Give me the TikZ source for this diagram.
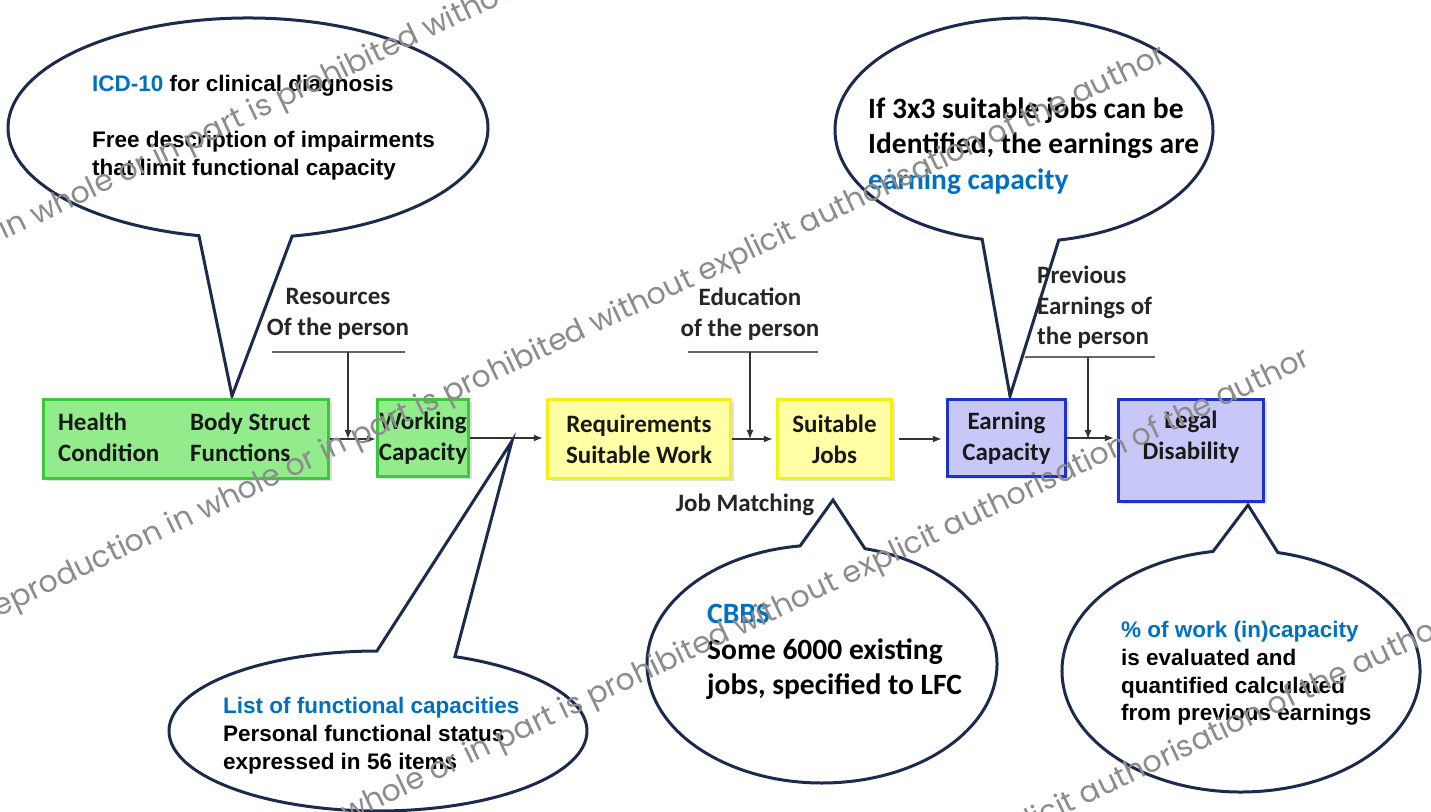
\documentclass[tikz,border=0pt]{standalone}
\usepackage{fontspec}
\setmainfont{Carlito}
\newfontfamily\arialf{Liberation Sans}
\newfontfamily\wmfont{Poppins}
\usetikzlibrary{shadows,arrows.meta}
\definecolor{navy}{RGB}{28,42,78}
\definecolor{hlblue}{RGB}{0,112,192}
\definecolor{gfill}{RGB}{146,236,140}
\definecolor{gline}{RGB}{60,200,60}
\definecolor{yfill}{RGB}{255,255,165}
\definecolor{yline}{RGB}{245,240,20}
\definecolor{bfill}{RGB}{200,200,248}
\definecolor{bline}{RGB}{30,50,200}
\tikzset{
 box/.style={draw, line width=3.5pt, inner sep=0pt, drop shadow={shadow xshift=3pt, shadow yshift=-3pt, opacity=0.25}},
 gbox/.style={box, draw=gline, fill=gfill},
 ybox/.style={box, draw=yline, fill=yfill},
 bbox/.style={box, draw=bline, fill=bfill},
 boxtext/.style={font=\fontsize{25}{31}\selectfont\bfseries, align=center, inner sep=0pt, text=black!90},
 lbl/.style={font=\fontsize{25}{31.5}\selectfont\bfseries, align=center, inner sep=0pt, text=black!85},
 flow/.style={-{Latex[length=9pt,width=7pt]}, line width=1.3pt, black!80},
 bar/.style={line width=1.6pt, black!60},
 bubble/.style={draw=navy, line width=3pt, fill=white, line join=miter},
 atext/.style={font=\arialf\fontsize{22.5}{28}\selectfont\bfseries, align=left, inner sep=0pt, anchor=west},
 ctext/.style={font=\fontsize{29.5}{35.5}\selectfont\bfseries, align=left, inner sep=0pt, anchor=west},
 wm/.style={font=\wmfont\fontsize{30}{33}\selectfont, text=black!45, rotate=25.4, anchor=base west, inner sep=0pt}
}
\begin{document}
\begin{tikzpicture}[x=1pt,y=1pt]
\useasboundingbox (0,0) rectangle (1431,811);
\fill[white] (0,0) rectangle (1431,811);
\clip (0,0) rectangle (1431,811);

% speech bubbles
\coordinate (t1) at (232,415);
\draw[bubble] (248,683) ++(280.6:240 and 110) arc[start angle=280.6, end angle=618.2, x radius=240, y radius=110] -- (t1) -- cycle;
\coordinate (t2) at (1010,415);
\draw[bubble] (1024,681) ++(280.6:189 and 112) arc[start angle=280.6, end angle=617.2, x radius=189, y radius=112] -- (t2) -- cycle;
\coordinate (t3) at (512,370);
\draw[bubble] (378,80) ++(90.3:209 and 80) arc[start angle=90.3, end angle=428.4, x radius=209, y radius=80] -- (t3) -- cycle;
\coordinate (t4) at (833,311);
\draw[bubble] (822,147) ++(97.2:175 and 119) arc[start angle=97.2, end angle=435.8, x radius=175, y radius=119] -- (t4) -- cycle;
\coordinate (t5) at (1248,306);
\draw[bubble] (1241,140) ++(99.0:179 and 121) arc[start angle=99.0, end angle=438.1, x radius=179, y radius=121] -- (t5) -- cycle;

% boxes
\node[gbox, minimum width=285pt, minimum height=79pt] (A) at (186,372) {};
\node[boxtext, align=left, anchor=west] (hc) at (58,373.5) {Health\\Condition};
\node[boxtext, align=left, anchor=west] (bs) at (190,373.5) {Body Struct\\Functions};
\node[gbox, boxtext, minimum width=91pt, minimum height=77pt] (B) at (423,373) {Working\\Capacity};
\node[ybox, boxtext, minimum width=183pt, minimum height=79pt] (C) at (639,372) {Requirements\\Suitable Work};
\node[ybox, boxtext, minimum width=114pt, minimum height=79pt] (D) at (834.5,372) {Suitable\\Jobs};
\node[bbox, boxtext, minimum width=118pt, minimum height=77pt] (E) at (1006.5,373) {Earning\\Capacity};
\node[bbox, minimum width=145pt, minimum height=102pt] (F) at (1191,360.5) {};
\node[boxtext] (Ft) at (1191,373.5) {Legal\\Disability};

% main flow
\draw[flow] (A.east) -- (A.east -| B.west);
\draw[flow, shorten >=3pt] (B.east) -- (B.east -| C.west);
\draw[flow, shorten >=3pt] (C.east) -- (C.east -| D.west);
\draw[flow, shorten <=6pt, shorten >=4pt] (D.east) -- (D.east -| E.west);
\draw[flow, shorten >=3pt] (E.east) -- (E.east -| F.west);

% inputs
\node[lbl] (res) at (338,497) {Resources\\Of the person};
\coordinate (resL) at (272,459); \coordinate (resR) at (405,459);
\coordinate (resJ) at (348,459); \coordinate (resT) at (348,372);
\draw[bar] (resL) -- (resR);
\draw[flow] (resJ) -- (resT);

\node[lbl] (edu) at (750,497) {Education\\of the person};
\coordinate (eduL) at (688,459); \coordinate (eduR) at (818,459);
\coordinate (eduJ) at (750,459); \coordinate (eduT) at (750,372);
\draw[bar] (eduL) -- (eduR);
\draw[flow] (eduJ) -- (eduT);

\node[lbl, align=left, anchor=west, font=\fontsize{25}{30.5}\selectfont\bfseries] (prev) at (1037,503.5) {Previous\\Earnings of\\the person};
\coordinate (prvL) at (1025,454); \coordinate (prvR) at (1155,454);
\coordinate (prvJ) at (1088,454); \coordinate (prvT) at (1088,372);
\draw[bar] (prvL) -- (prvR);
\draw[flow] (prvJ) -- (prvT);

\node[lbl] (jm) at (745,306) {Job Matching};

% bubble texts
\node[atext] (b1t) at (92,683) {\textcolor{hlblue}{ICD-10} for clinical diagnosis\\[28pt]Free description of impairments\\that limit functional capacity};
\node[ctext] (b2t) at (868,665) {If 3x3 suitable jobs can be\\Identified, the earnings are\\\textcolor{hlblue}{earning capacity}};
\node[atext] (b3t) at (223,75.5) {\textcolor{hlblue}{List of functional capacities}\\Personal functional status\\expressed in 56 items};
\node[ctext] (b4t) at (707,159) {\textcolor{hlblue}{CBBS}\\Some 6000 existing\\jobs, specified to LFC};
\node[atext, font=\arialf\fontsize{22.5}{27.7}\selectfont\bfseries] (b5t) at (1121,137.5) {\textcolor{hlblue}{\% of work (in)capacity}\\is evaluated and\\quantified calculated\\from previous earnings};

% watermark
\foreach \sx/\sy in {-185/481, -18/186, 126/-117, 262/-385}{
  \node[wm] at (\sx,\sy) {Reproduction in whole or in part is prohibited without explicit authorisation of the author};
}
\end{tikzpicture}
\end{document}
